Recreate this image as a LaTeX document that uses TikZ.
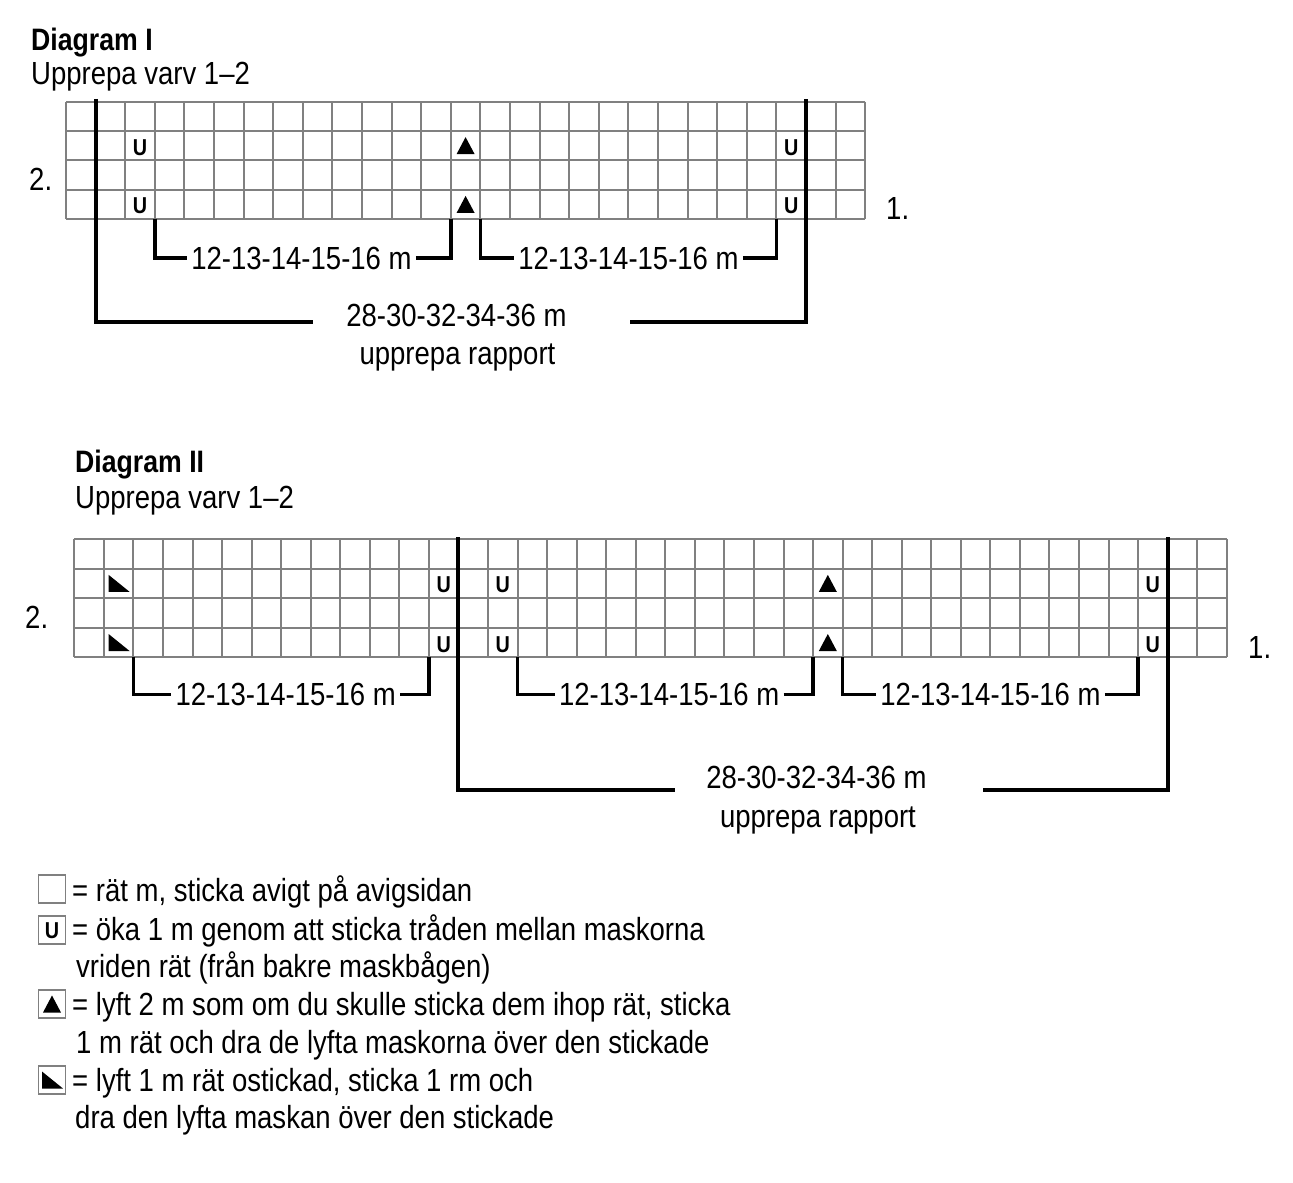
\documentclass[tikz,border=0pt]{standalone}
\usepackage{fontspec}
\setmainfont{Liberation Sans}[FakeStretch=0.86]
\definecolor{gridc}{RGB}{128,128,128}
\begin{document}
\begin{tikzpicture}[x=1pt,y=-1pt,
  gridl/.style={draw=gridc, line width=2pt},
  thickl/.style={line width=4pt, line join=miter},
  brk/.style={line width=3.6pt, line join=miter},
  lbl/.style={font=\fontsize{32}{38}\selectfont, inner sep=4pt},
  txt/.style={font=\fontsize{32}{38}\selectfont, inner sep=0pt, anchor=base west},
  ttl/.style={font=\fontsize{31}{37}\selectfont\bfseries, inner sep=0pt, anchor=base west},
  usym/.style={font=\fontsize{23}{23}\selectfont\bfseries, inner sep=0pt},
  lbox/.style={draw=gridc, line width=1.8pt, minimum width=27pt, minimum height=28pt, inner sep=0pt},
  tri/.pic={\fill[x=1pt,y=-1pt] (-9,8.5) -- (9,8.5) -- (0,-8.5) -- cycle;},
  slant/.pic={\fill[x=1pt,y=-1pt] (-10,-8.5) -- (-10,8.5) -- (11,8.5) -- cycle;}
]
\useasboundingbox (0,0) rectangle (1293,1183);

% ---------------- Diagram I ----------------
\node[ttl] (t1) at (31,50) {Diagram I};
\node[txt] (s1) at (31,84) {Upprepa varv 1–2};

\begin{scope}[shift={(66,101.5)}, x=29.6pt, y=-29.4pt]
  \foreach \i in {0,...,27} \draw[gridl] (\i,0) -- (\i,4);
  \foreach \j in {0,...,4} \draw[gridl] (0,\j) -- (27,\j);
  \foreach \r [count=\k] in {1.5,3.5} {
    \node[usym] (Iu1\k) at (2.5,\r+0.06) {U};
    \node[usym] (Iu2\k) at (24.5,\r+0.06) {U};
    \pic at (13.5,\r) {tri};
  }
  \coordinate (IbL) at (1,-0.09);
  \coordinate (IbR) at (25,-0.09);
  \coordinate (Ia1) at (3,4);
  \coordinate (Ia2) at (13,4);
  \coordinate (Ia3) at (14,4);
  \coordinate (Ia4) at (24,4);
\end{scope}

\node[txt] (Ir2) at (29,190) {2.};
\node[txt] (Ir1) at (886,219) {1.};

\node[lbl] (Il1) at (301.5,258) {12-13-14-15-16 m};
\node[lbl] (Il2) at (628.5,258) {12-13-14-15-16 m};
\draw[brk] (Ia1) |- (Il1.west);
\draw[brk] (Il1.east) -| (Ia2);
\draw[brk] (Ia3) |- (Il2.west);
\draw[brk] (Il2.east) -| (Ia4);

\node[lbl, anchor=base, inner sep=0pt] (Irep1) at (456.5,326) {28-30-32-34-36 m};
\node[lbl, anchor=base, inner sep=0pt] (Irep2) at (457.5,364) {upprepa rapport};
\coordinate (IhL) at (313,322);
\coordinate (IhR) at (630,322);
\draw[thickl] (IbL) |- (IhL);
\draw[thickl] (IhR) -| (IbR);

% ---------------- Diagram II ----------------
\node[ttl] (t2) at (75,472) {Diagram II};
\node[txt] (s2) at (75,508) {Upprepa varv 1–2};

\begin{scope}[shift={(74.3,539)}, x=29.55pt, y=-29.575pt]
  \foreach \i in {0,...,39} \draw[gridl] (\i,0) -- (\i,4);
  \foreach \j in {0,...,4} \draw[gridl] (0,\j) -- (39,\j);
  \foreach \r [count=\k] in {1.5,3.5} {
    \pic at (1.5,\r) {slant};
    \node[usym] (IIu1\k) at (12.5,\r+0.06) {U};
    \node[usym] (IIu2\k) at (14.5,\r+0.06) {U};
    \node[usym] (IIu3\k) at (36.5,\r+0.06) {U};
    \pic at (25.5,\r) {tri};
  }
  \coordinate (IIbL) at (13,-0.06);
  \coordinate (IIbR) at (37,-0.06);
  \coordinate (IIa1) at (2,4);
  \coordinate (IIa2) at (12,4);
  \coordinate (IIa3) at (15,4);
  \coordinate (IIa4) at (25,4);
  \coordinate (IIa5) at (26,4);
  \coordinate (IIa6) at (36,4);
\end{scope}

\node[txt] (IIr2) at (25,628) {2.};
\node[txt] (IIr1) at (1248,658) {1.};

\node[lbl] (IIl1) at (285.7,694.5) {12-13-14-15-16 m};
\node[lbl] (IIl2) at (669.2,694.5) {12-13-14-15-16 m};
\node[lbl] (IIl3) at (990.5,694.5) {12-13-14-15-16 m};
\draw[brk] (IIa1) |- (IIl1.west);
\draw[brk] (IIl1.east) -| (IIa2);
\draw[brk] (IIa3) |- (IIl2.west);
\draw[brk] (IIl2.east) -| (IIa4);
\draw[brk] (IIa5) |- (IIl3.west);
\draw[brk] (IIl3.east) -| (IIa6);

\node[lbl, anchor=base, inner sep=0pt] (IIrep1) at (816.5,788) {28-30-32-34-36 m};
\node[lbl, anchor=base, inner sep=0pt] (IIrep2) at (818,827) {upprepa rapport};
\coordinate (IIhL) at (675,790);
\coordinate (IIhR) at (983,790);
\draw[thickl] (IIbL) |- (IIhL);
\draw[thickl] (IIhR) -| (IIbR);

% ---------------- Legend ----------------
\node[lbox] (L1) at (52,889) {};
\node[lbox] (L2) at (52,930) {};
\node[usym] (L2u) at (52,931) {U};
\node[lbox] (L3) at (52,1004) {};
\pic at (L3) {tri};
\node[lbox] (L4) at (52,1080) {};
\pic at (L4) {slant};

\node[txt] (g1) at (72,901) {= rät m, sticka avigt på avigsidan};
\node[txt] (g2) at (72,940) {= öka 1 m genom att sticka tråden mellan maskorna};
\node[txt] (g3) at (76,977) {vriden rät (från bakre maskbågen)};
\node[txt] (g4) at (72,1015) {= lyft 2 m som om du skulle sticka dem ihop rät, sticka};
\node[txt] (g5) at (76,1053) {1 m rät och dra de lyfta maskorna över den stickade};
\node[txt] (g6) at (72,1091) {= lyft 1 m rät ostickad, sticka 1 rm och};
\node[txt] (g7) at (75,1128) {dra den lyfta maskan över den stickade};
\end{tikzpicture}
\end{document}
